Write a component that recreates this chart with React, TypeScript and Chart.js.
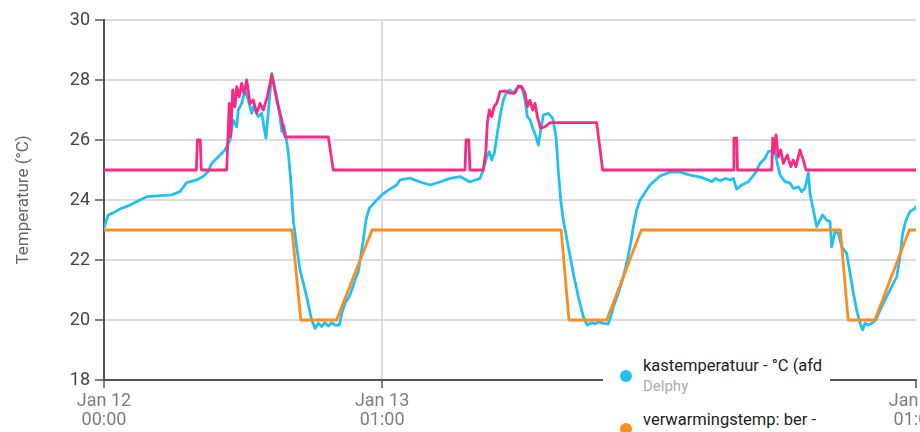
import React, { useEffect, useRef } from "react";
import { Chart, registerables } from "chart.js";

Chart.register(...registerables);

// hours since Jan 12 00:00
const tickHours = [0, 25, 73];
const tickLabels = [
  ["Jan 12", "00:00"],
  ["Jan 13", "01:00"],
  ["Jan 15", "01:00"],
];

const yTicks = [18, 20, 22, 24, 26, 28, 30];

const seriesNames = [
  "kastemperatuur - °C (afd",
  "verwarmingstemp: ber -",
  "ventilatietemp: ber -",
];
const seriesSource = "Delphy";

const cyanHours = [
  0, 0.18, 0.39, 0.81, 1.44, 2.34, 3.24, 3.84, 6.09, 6.83, 7.43, 8.33, 8.9, 9.35, 9.68,
  10.88, 11.33, 11.6, 11.93, 12.07, 12.38, 12.68, 12.97, 13.28, 13.42, 13.87, 14.18,
  14.32, 14.56, 15.08, 15.53, 15.82, 15.98, 16.18, 16.36, 16.57, 16.79, 17.02, 17.32,
  17.62, 18.22, 18.67, 18.97, 19.27, 19.57, 19.87, 20.17, 20.47, 20.77, 21.15, 21.37,
  21.67, 22.05, 22.27, 22.57, 22.86, 23.08, 23.31, 23.55, 23.85, 24.36, 24.97, 25.56,
  26.31, 26.61, 27.51, 28.41, 29.31, 30.21, 31.11, 32.01, 32.9, 33.8, 34.1, 34.4, 34.64,
  34.86, 35.09, 35.31, 35.6, 35.9, 36.2, 36.5, 36.8, 37.1, 37.4, 37.64, 37.85, 38.06,
  38.3, 38.6, 38.84, 39.05, 39.26, 39.5, 39.95, 40.34, 40.64, 40.84, 41.06, 41.29, 41.74,
  42.19, 42.64, 43.09, 43.45, 43.85, 44.14, 44.44, 44.89, 45.34, 45.56, 45.79, 46.24,
  46.69, 47.05, 47.35, 47.59, 47.89, 48.19, 49.09, 49.99, 50.89, 51.79, 52.69, 53.6,
  54.2, 54.65, 54.95, 55.4, 55.85, 56.3, 56.58, 56.88, 57.33, 57.93, 58.53, 58.98, 59.43,
  59.73, 60.03, 60.32, 60.53, 60.78, 61.23, 61.68, 61.97, 62.42, 62.73, 63.02, 63.32,
  63.47, 63.77, 64.07, 64.31, 64.61, 64.97, 65.27, 65.42, 65.72, 66.02, 66.32, 66.77,
  67.07, 67.37, 67.67, 67.97, 68.21, 68.42, 68.71, 69.02, 69.41, 69.77, 70.21, 70.51,
  70.96, 71.27, 71.56, 71.8, 72.1, 72.46, 72.91, 73,
];
const cyanValues = [
  23.06, 23.28, 23.5, 23.57, 23.7, 23.83, 24.0, 24.11, 24.17, 24.28, 24.58, 24.67, 24.78,
  24.94, 25.22, 25.67, 26.0, 26.67, 26.44, 27.0, 27.22, 27.67, 27.33, 26.89, 27.11, 26.78,
  26.89, 26.56, 26.06, 28.22, 27.44, 26.78, 26.28, 26.5, 26.11, 25.57, 24.67, 23.33, 22.44,
  21.67, 20.78, 20.0, 19.72, 19.89, 19.78, 19.91, 19.8, 19.91, 19.83, 19.83, 20.22, 20.56,
  20.78, 21.0, 21.33, 21.61, 22.11, 22.67, 23.33, 23.72, 23.94, 24.17, 24.33, 24.5, 24.67,
  24.73, 24.6, 24.5, 24.6, 24.72, 24.78, 24.6, 24.72, 25.0, 25.44, 25.61, 25.33, 25.56,
  26.11, 26.78, 27.33, 27.61, 27.67, 27.56, 27.72, 27.78, 27.67, 27.33, 26.78, 26.67,
  26.33, 26.11, 25.83, 26.33, 26.83, 26.89, 26.72, 26.11, 25.0, 24.0, 23.33, 22.44, 21.56,
  20.78, 20.11, 19.83, 19.91, 19.87, 19.94, 19.89, 19.87, 20.11, 20.44, 20.89, 21.44, 22.0,
  22.56, 23.11, 23.67, 24.0, 24.5, 24.8, 24.93, 24.93, 24.83, 24.76, 24.69, 24.61, 24.72,
  24.64, 24.72, 24.67, 24.72, 24.36, 24.5, 24.61, 24.89, 25.22, 25.39, 25.61, 25.64, 25.61,
  25.22, 24.83, 24.61, 24.56, 24.39, 24.44, 24.28, 24.39, 24.91, 24.22, 23.67, 23.11,
  23.28, 23.5, 23.33, 23.28, 22.44, 22.94, 22.89, 22.44, 22.22, 21.56, 20.89, 20.33, 19.89,
  19.67, 19.89, 19.83, 19.89, 20.0, 20.33, 20.67, 20.89, 21.22, 21.44, 22.11, 22.89, 23.33,
  23.61, 23.72, 23.78,
];

const orangeHours = [0, 16.9, 17.7, 20.9, 24.1, 41.1, 41.8, 45.2, 48.3, 66.2, 66.9, 69.3, 72.4, 73];
const orangeValues = [23, 23, 20, 20, 23, 23, 20, 20, 23, 23, 20, 20, 23, 23];

const pinkHours = [
  0, 8.3, 8.4, 8.65, 8.75, 11.03, 11.26, 11.39, 11.57, 11.78, 11.93, 12.16, 12.38, 12.59,
  12.83, 13.13, 13.42, 13.73, 14.02, 14.32, 14.68, 15.08, 15.53, 15.98, 16.27, 20.17,
  20.61, 32.45, 32.55, 32.8, 32.9, 34.1, 34.34, 34.46, 34.64, 34.86, 35.06, 35.31, 35.6,
  36.05, 36.5, 36.95, 37.25, 37.55, 37.85, 38.06, 38.3, 38.54, 38.75, 38.96, 39.26, 39.65,
  40.1, 44.29, 44.83, 56.58, 56.63, 56.88, 56.95, 60.03, 60.12, 60.24, 60.42, 60.62,
  60.84, 61.07, 61.43, 61.74, 61.97, 62.21, 62.57, 62.87, 63.11, 73,
];
const pinkValues = [
  25, 25, 26, 26, 25, 25, 27.22, 26.11, 27.67, 27.11, 27.78, 27.44, 27.89, 27.56, 28.0,
  27.22, 27.33, 26.89, 27.22, 27.0, 27.44, 28.17, 27.33, 26.67, 26.1, 26.1, 25, 25, 26, 26,
  25, 25, 25.67, 26.56, 27.0, 26.78, 27.11, 27.22, 27.61, 27.64, 27.56, 27.56, 27.8, 27.78,
  27.56, 27.11, 27.33, 27.0, 27.22, 26.78, 26.39, 26.44, 26.58, 26.58, 25, 25, 26.06, 26.06,
  25, 25, 26.06, 25.56, 26.17, 25.44, 25.67, 25.22, 25.5, 25.11, 25.33, 25.11, 25.67,
  25.33, 25, 25,
];

const toPoints = (xs: number[], ys: number[]) => xs.map((x, i) => ({ x, y: ys[i] }));

const FONT = "Roboto, 'DejaVu Sans', sans-serif";

export default function App() {
  const ref = useRef<HTMLCanvasElement | null>(null);

  useEffect(() => {
    if (!ref.current) return;
    const chart = new Chart(ref.current, {
      type: "line",
      data: {
        datasets: [
          {
            label: seriesNames[2],
            data: toPoints(pinkHours, pinkValues),
            borderColor: "#f72a86",
            borderWidth: 2.8,
            pointRadius: 0,
            tension: 0,
          },
          {
            label: seriesNames[1],
            data: toPoints(orangeHours, orangeValues),
            borderColor: "#fb8c22",
            borderWidth: 2.8,
            pointRadius: 0,
            tension: 0,
          },
          {
            label: seriesNames[0],
            data: toPoints(cyanHours, cyanValues),
            borderColor: "#22c0f0",
            borderWidth: 2.8,
            pointRadius: 0,
            tension: 0,
          },
        ],
      },
      options: {
        animation: false,
        responsive: true,
        maintainAspectRatio: false,
        layout: { padding: { top: 20, left: 0, right: 44, bottom: 0 } },
        plugins: { legend: { display: false }, tooltip: { enabled: false } },
        elements: { line: { borderJoinStyle: "round", borderCapStyle: "round" } },
        scales: {
          x: {
            type: "linear",
            min: 0,
            max: 73,
            afterBuildTicks: (scale: any) => {
              scale.ticks = tickHours.map((v) => ({ value: v }));
            },
            afterFit: (scale: any) => {
              scale.height = 52;
            },
            ticks: {
              autoSkip: false,
              maxRotation: 0,
              padding: 4,
              color: "#7d7d7d",
              font: { family: FONT, size: 18, lineHeight: 1.05 },
              callback: (_v: any, i: number) => tickLabels[i],
            },
            grid: {
              color: (ctx: any) => (ctx.index === 1 ? "#dcdcdc" : "rgba(0,0,0,0)"),
              lineWidth: 2,
              tickColor: "#555",
              tickLength: 8,
              tickWidth: 1.5,
            },
            border: { color: "#555", width: 2 },
          },
          y: {
            min: 18,
            max: 30,
            afterBuildTicks: (scale: any) => {
              scale.ticks = yTicks.map((v) => ({ value: v }));
            },
            afterFit: (scale: any) => {
              scale.width = 104;
            },
            ticks: {
              padding: 5,
              color: "#444",
              font: { family: FONT, size: 18 },
            },
            grid: {
              color: "#dcdcdc",
              lineWidth: 2,
              tickColor: "#555",
              tickLength: 9,
              tickWidth: 1.5,
            },
            border: { color: "#555", width: 2 },
            title: {
              display: true,
              text: "Temperature (°C)",
              color: "#666",
              font: { family: FONT, size: 17 },
              padding: { top: 14, bottom: 0 },
            },
          },
        },
      },
    });
    return () => chart.destroy();
  }, []);

  return (
    <div
      style={{
        position: "absolute",
        left: 0,
        top: 0,
        width: 920,
        height: 432,
        overflow: "hidden",
        background: "#fff",
      }}
    >
      <div style={{ position: "relative", width: 960, height: 432 }}>
        <canvas ref={ref} />
      </div>
      <div
        style={{
          position: "absolute",
          left: 603,
          top: 350,
          width: 227,
          height: 90,
          background: "#fff",
          overflow: "hidden",
          fontFamily: FONT,
          whiteSpace: "nowrap",
        }}
      >
        <span
          style={{
            position: "absolute",
            left: 17,
            top: 20,
            width: 12,
            height: 12,
            borderRadius: 6,
            background: "#22c0f0",
          }}
        />
        <div style={{ position: "absolute", left: 40, top: 6, fontSize: 16.5, color: "#222", lineHeight: "20px" }}>
          {seriesNames[0]}
        </div>
        <div style={{ position: "absolute", left: 40, top: 26, fontSize: 15, color: "#aaa", lineHeight: "20px" }}>
          {seriesSource}
        </div>
        <span
          style={{
            position: "absolute",
            left: 17,
            top: 73,
            width: 12,
            height: 12,
            borderRadius: 6,
            background: "#fb8c22",
          }}
        />
        <div style={{ position: "absolute", left: 40, top: 60, fontSize: 16.5, color: "#222", lineHeight: "20px" }}>
          {seriesNames[1]}
        </div>
      </div>
    </div>
  );
}
